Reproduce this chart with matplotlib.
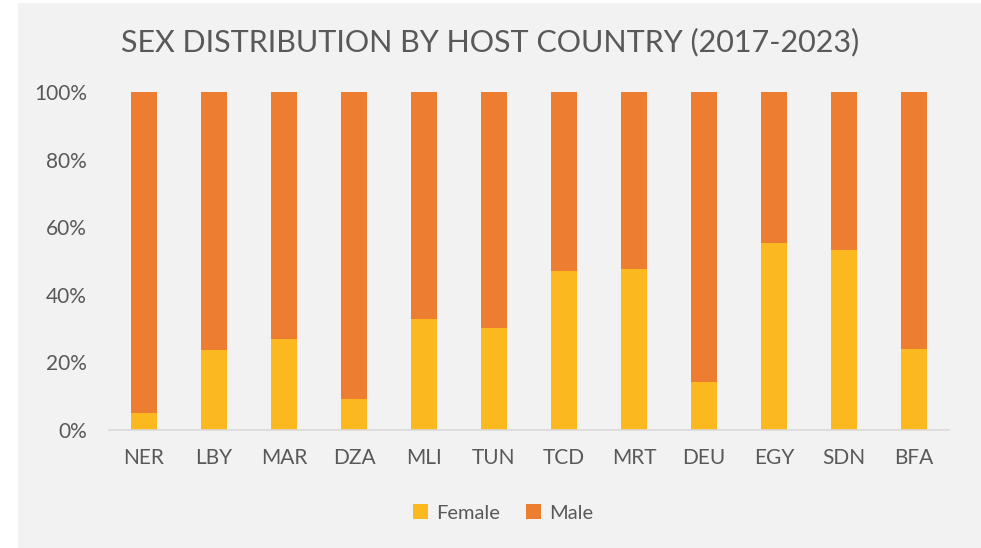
import matplotlib.pyplot as plt
from matplotlib.patches import Rectangle
from matplotlib.ticker import PercentFormatter
import numpy as np

# Data (female share, male is the remainder)
countries = ['NER', 'LBY', 'MAR', 'DZA', 'MLI', 'TUN', 'TCD', 'MRT', 'DEU', 'EGY', 'SDN', 'BFA']
female = [0.051, 0.237, 0.270, 0.092, 0.328, 0.301, 0.472, 0.476, 0.141, 0.555, 0.533, 0.240]
male = [1 - f for f in female]

female_color = '#FBB91F'
male_color = '#ED7D31'
text_color = '#595959'
font = ['Lato', 'DejaVu Sans']

fig = plt.figure(figsize=(9.81, 5.48), dpi=100)
fig.patch.set_facecolor('white')
# grey chart area background
fig.patches.append(Rectangle((18 / 981, 0), 1 - 18 / 981, 1 - 3 / 548,
                             transform=fig.transFigure, facecolor='#F2F2F2',
                             edgecolor='none', zorder=-10))

ax = fig.add_axes([109 / 981, 1 - 430 / 548, 840 / 981, (430 - 92.3) / 548])
ax.set_facecolor('none')

x = np.arange(len(countries))
ax.bar(x, female, width=0.38, color=female_color, label='Female', zorder=2)
ax.bar(x, male, bottom=female, width=0.38, color=male_color, label='Male', zorder=2)

ax.set_xlim(-0.5, len(countries) - 0.5)
ax.set_ylim(0, 1)
ax.set_yticks(np.arange(0, 1.01, 0.2))
ax.yaxis.set_major_formatter(PercentFormatter(1.0, decimals=0))
ax.set_xticks(x)
ax.set_xticklabels(countries)

for s in ['top', 'right', 'left']:
    ax.spines[s].set_visible(False)
ax.spines['bottom'].set_color('#D9D9D9')
ax.spines['bottom'].set_linewidth(1.2)
ax.tick_params(axis='both', length=0, labelsize=15, colors=text_color)
ax.tick_params(axis='y', pad=16)
ax.tick_params(axis='x', pad=13)
for lbl in ax.get_xticklabels() + ax.get_yticklabels():
    lbl.set_family(font)

fig.text(0.5, 1 - 42 / 548, 'SEX DISTRIBUTION BY HOST COUNTRY (2017-2023)',
         ha='center', va='center', fontsize=22, color=text_color, family=font)

leg = fig.legend(*ax.get_legend_handles_labels(), loc='center',
                 bbox_to_anchor=(503 / 981, 1 - 513 / 548),
                 ncol=2, frameon=False, handlelength=0.75, handleheight=0.75,
                 handletextpad=0.4, columnspacing=1.3,
                 prop={'family': font, 'size': 14.5})
for t in leg.get_texts():
    t.set_color(text_color)

fig.savefig('out.png', dpi=100)
